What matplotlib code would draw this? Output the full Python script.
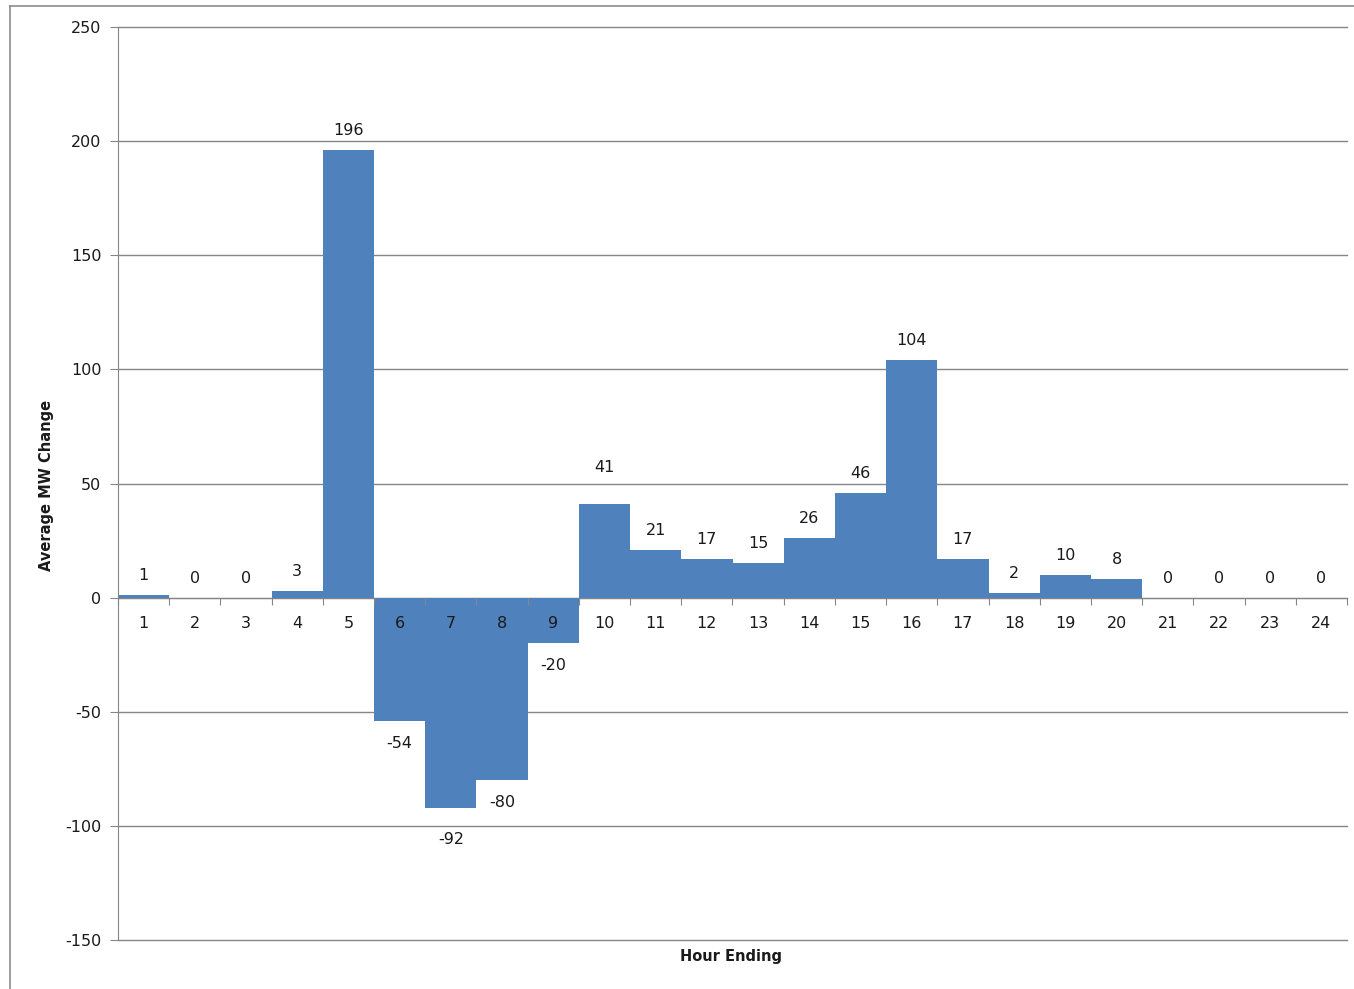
import matplotlib.pyplot as plt
from matplotlib.lines import Line2D
import numpy as np

plt.rcParams['font.family'] = ['DejaVu Sans']
plt.rcParams['axes.unicode_minus'] = False

hours = list(range(1, 25))
mw_change = [1, 0, 0, 3, 196, -54, -92, -80, -20, 41, 21, 17, 15, 26, 46, 104, 17, 2, 10, 8, 0, 0, 0, 0]

bar_color = '#4F81BD'
grid_color = '#868686'
text_color = '#1a1a1a'
fs = 11.5

fig = plt.figure(figsize=(13.54, 9.89), dpi=100)
ax = fig.add_axes([118 / 1354, 1 - 940 / 989, (1347 - 118) / 1354, (940 - 27) / 989])

x = np.arange(len(hours))

# horizontal gridlines behind the bars
for gy in range(-150, 251, 50):
    ax.axhline(gy, color=grid_color, linewidth=1.0, zorder=0, clip_on=False)

ax.bar(x, mw_change, width=1.0, color=bar_color, zorder=2)

ax.set_xlim(-0.5, len(hours) - 0.5)
ax.set_ylim(-150, 250)
ax.set_yticks(range(-150, 251, 50))

for s in ['top', 'right']:
    ax.spines[s].set_visible(False)
ax.spines['left'].set_color(grid_color)
ax.spines['bottom'].set_position(('data', 0))
ax.spines['bottom'].set_color(grid_color)
ax.spines['bottom'].set_zorder(1)
ax.xaxis.set_zorder(3)

# category boundaries get the tick marks, labels sit at the centres
ax.set_xticks(np.arange(-0.5, len(hours), 1.0))
ax.set_xticklabels([])
ax.set_xticks(x, minor=True)
ax.set_xticklabels([str(h) for h in hours], minor=True)
ax.tick_params(axis='x', which='major', length=5, color=grid_color, direction='out')
ax.tick_params(axis='x', which='minor', length=0, pad=13, labelsize=fs, labelcolor=text_color)
ax.tick_params(axis='y', length=6, color=grid_color, labelsize=fs, labelcolor=text_color, pad=6)

# a couple of labels sit a little further out
nudge = {9: 12, 6: -7}
for xi, v in zip(x, mw_change):
    off = 14 if v >= 0 else -16
    off += nudge.get(xi, 0)
    ax.annotate(str(v), (xi, v), xytext=(0, off), textcoords='offset points',
                ha='center', va='center', fontsize=fs, color=text_color, zorder=4)

fig.text(47 / 1354, 1 - 485 / 989, 'Average MW Change', rotation=90, ha='center', va='center',
         fontsize=10.5, fontweight='bold', color=text_color)
fig.text(731 / 1354, 1 - 957 / 989, 'Hour Ending', ha='center', va='center',
         fontsize=10.5, fontweight='bold', color=text_color)

# outer chart border (left and top edges)
fig.add_artist(Line2D([9.5 / 1354, 9.5 / 1354], [0, 1 - 5.5 / 989], transform=fig.transFigure,
                      color='#8c8c8c', linewidth=1.2))
fig.add_artist(Line2D([9.5 / 1354, 1], [1 - 5.5 / 989, 1 - 5.5 / 989], transform=fig.transFigure,
                      color='#8c8c8c', linewidth=1.2))

fig.savefig('out.png', dpi=100)
